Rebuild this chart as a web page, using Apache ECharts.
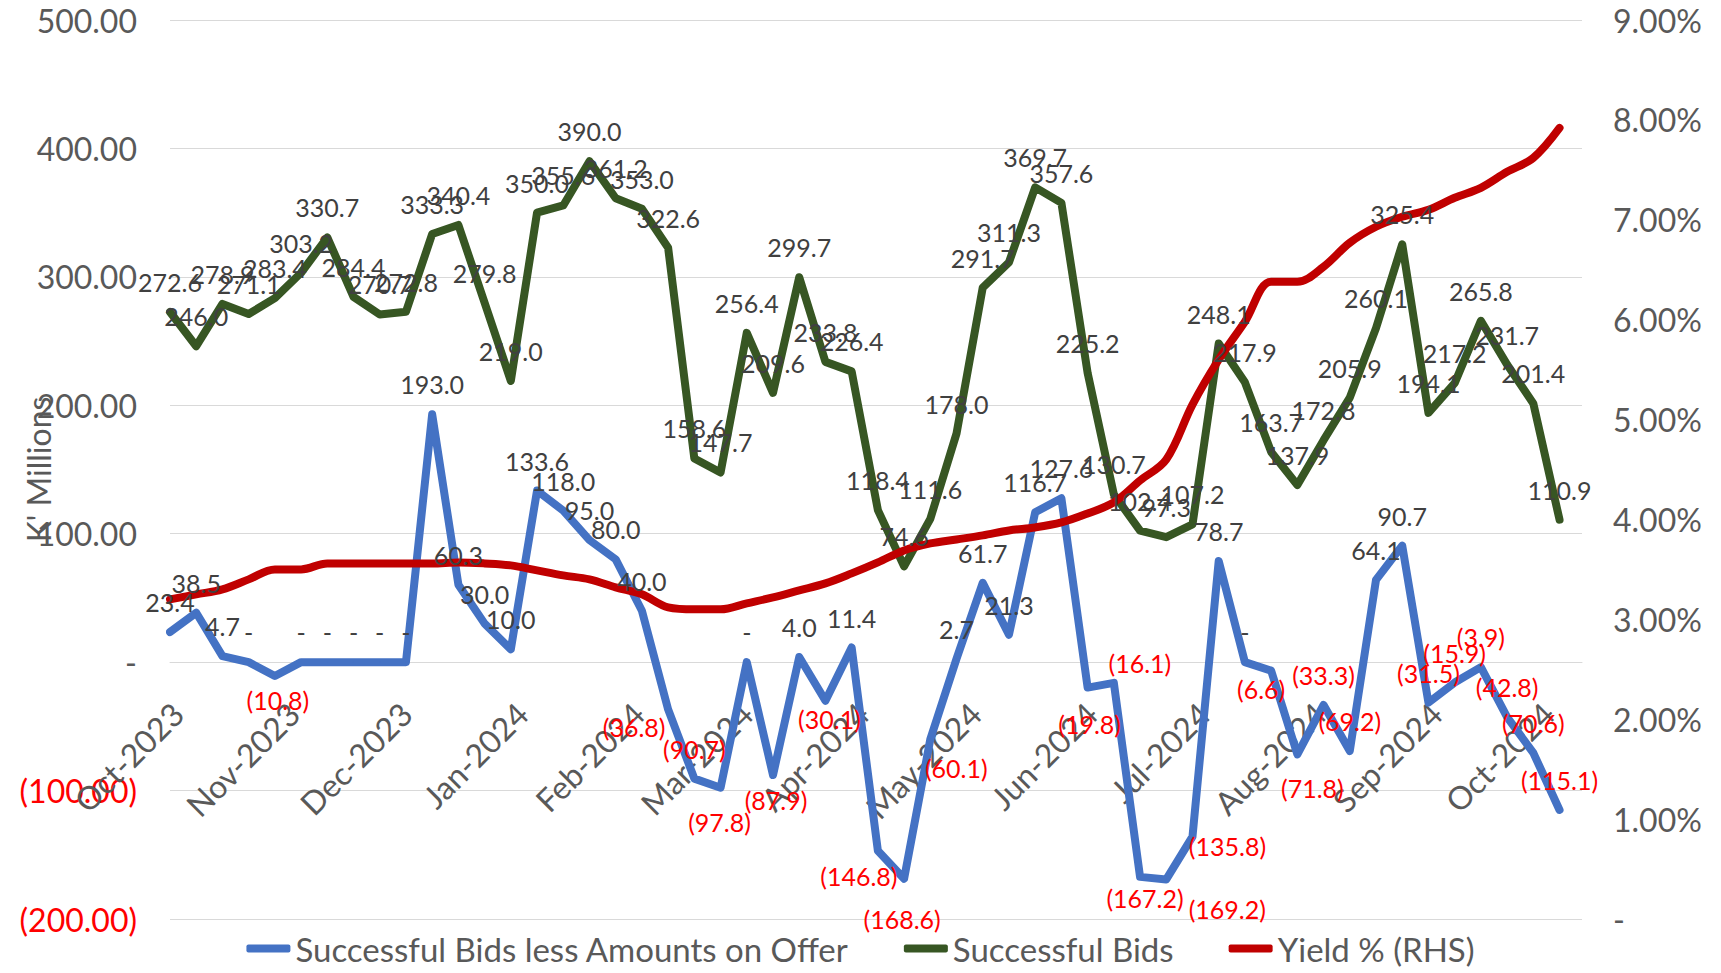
<!DOCTYPE html>
<html>
<head>
<meta charset="utf-8">
<script src="https://cdn.jsdelivr.net/npm/echarts@6/dist/echarts.min.js"></script>
<style>
html,body{margin:0;padding:0;background:#fff;}
#chart{width:1721px;height:973px;}
</style>
</head>
<body>
<div id="chart"></div>
<script>
// Weekly auction dates
const dates = [
  '2023-09-29','2023-10-06','2023-10-13','2023-10-20','2023-10-27',
  '2023-11-03','2023-11-10','2023-11-17','2023-11-24','2023-12-01',
  '2023-12-08','2023-12-15','2023-12-22','2023-12-29','2024-01-05',
  '2024-01-12','2024-01-19','2024-01-26','2024-02-02','2024-02-09',
  '2024-02-16','2024-02-23','2024-03-01','2024-03-08','2024-03-15',
  '2024-03-22','2024-03-29','2024-04-05','2024-04-12','2024-04-19',
  '2024-04-26','2024-05-03','2024-05-10','2024-05-17','2024-05-24',
  '2024-05-31','2024-06-07','2024-06-14','2024-06-21','2024-06-28',
  '2024-07-05','2024-07-12','2024-07-19','2024-07-26','2024-08-02',
  '2024-08-09','2024-08-16','2024-08-23','2024-08-30','2024-09-06',
  '2024-09-13','2024-09-20','2024-09-27','2024-10-04'
];
// Successful Bids less Amounts on Offer (K' Millions)
const bidsLessOffer = [
  23.4, 38.5, 4.7, 0, -10.8, 0, 0, 0, 0, 0,
  193.0, 60.3, 30.0, 10.0, 133.6, 118.0, 95.0, 80.0, 40.0, -36.8,
  -90.7, -97.8, 0, -87.9, 4.0, -30.1, 11.4, -146.8, -168.6, -60.1,
  2.7, 61.7, 21.3, 116.7, 127.6, -19.8, -16.1, -167.2, -169.2, -135.8,
  78.7, 0, -6.6, -71.8, -33.3, -69.2, 64.1, 90.7, -31.5, -15.9,
  -3.9, -42.8, -70.6, -115.1
];
// Successful Bids (K' Millions)
const successfulBids = [
  272.6, 246.0, 278.9, 271.1, 283.4, 303.2, 330.7, 284.4, 270.7, 272.8,
  333.3, 340.4, 279.8, 219.0, 350.0, 355.6, 390.0, 361.2, 353.0, 322.6,
  158.6, 147.7, 256.4, 209.6, 299.7, 233.8, 226.4, 118.4, 74.6, 111.6,
  178.0, 291.7, 311.3, 369.7, 357.6, 225.2, 130.7, 102.4, 97.3, 107.2,
  248.1, 217.9, 163.7, 137.9, 172.8, 205.9, 260.1, 325.4, 194.1, 217.2,
  265.8, 231.7, 201.4, 110.9
];
// Yield % (RHS)
const yieldPct = [
  3.20, 3.25, 3.30, 3.40, 3.50, 3.50, 3.56, 3.56, 3.56, 3.56,
  3.56, 3.57, 3.56, 3.54, 3.49, 3.44, 3.40, 3.32, 3.25, 3.12,
  3.10, 3.10, 3.16, 3.22, 3.29, 3.36, 3.46, 3.57, 3.69, 3.76,
  3.80, 3.84, 3.89, 3.92, 3.97, 4.06, 4.17, 4.39, 4.60, 5.15,
  5.60, 5.98, 6.38, 6.38, 6.53, 6.77, 6.93, 7.03, 7.10, 7.22,
  7.32, 7.48, 7.62, 7.92
];
const monthNames = ['Jan','Feb','Mar','Apr','May','Jun','Jul','Aug','Sep','Oct','Nov','Dec'];

// label placement tweaks (1-based point number -> [dx, dy] of label centre)
const defaultLabelOffset = [0, -30];
const blueLabelOffsets = {
  5:[3,24], 20:[-34,18], 22:[-1,34], 24:[3,25], 26:[4,18], 28:[-19,25],
  29:[-2,40], 30:[26,29], 36:[2,36], 37:[26,-20], 38:[5,21], 39:[61,30],
  40:[35,9], 43:[-10,18], 44:[15,34]
};

const FONT = 'Lato';
const GRAY = '#595959';
const LABEL_GRAY = '#404040';
const RED_TXT = '#FF0000';

const GRID_TOP = 20, GRID_BOTTOM = 54, CHART_H = 973;
const Y_MIN = -200, Y_MAX = 500;
// distance from the bottom of the plot to the zero line, so the date axis sits on zero
const plotH = CHART_H - GRID_TOP - GRID_BOTTOM;
const zeroOffset = plotH * (0 - Y_MIN) / (Y_MAX - Y_MIN);

function fmtParen(v, d) {
  if (v === 0) return '-';
  if (v < 0) return '(' + Math.abs(v).toFixed(d) + ')';
  return v.toFixed(d);
}

const blueData = bidsLessOffer.map((v, i) => ({
  value: [dates[i], v],
  label: {
    offset: blueLabelOffsets[i + 1] || defaultLabelOffset,
    color: v < 0 ? RED_TXT : LABEL_GRAY
  }
}));
const greenData = successfulBids.map((v, i) => ({
  value: [dates[i], v],
  label: { offset: defaultLabelOffset }
}));
const redData = yieldPct.map((v, i) => [dates[i], v]);

const chart = echarts.init(document.getElementById('chart'), null, { renderer: 'svg' });

const labelCommon = {
  show: true,
  position: 'inside',
  fontSize: 25,
  fontFamily: FONT,
  color: LABEL_GRAY
};

chart.setOption({
  animation: false,
  backgroundColor: '#ffffff',
  textStyle: { fontFamily: FONT },
  grid: { left: 170, right: 139, top: GRID_TOP, bottom: GRID_BOTTOM, containLabel: false, outerBoundsMode: 'none' },
  legend: {
    bottom: 3,
    left: 'center',
    icon: 'roundRect',
    itemWidth: 44,
    itemHeight: 8,
    itemGap: 55,
    textStyle: { fontSize: 33, color: GRAY, fontFamily: FONT },
    data: ['Successful Bids less Amounts on Offer', 'Successful Bids', 'Yield % (RHS)']
  },
  xAxis: {
    type: 'time',
    position: 'bottom',
    offset: -zeroOffset,
    min: '2023-09-29',
    max: '2024-10-10',
    minInterval: 28 * 864e5,
    maxInterval: 31 * 864e5,
    splitLine: { show: false },
    axisTick: { show: false },
    axisLine: { show: true, onZero: false, lineStyle: { color: '#D9D9D9', width: 1 } },
    axisLabel: {
      rotate: 45,
      margin: 46,
      fontSize: 32,
      color: GRAY,
      fontFamily: FONT,
      hideOverlap: false,
      formatter: function (val) {
        const d = new Date(val);
        return monthNames[d.getMonth()] + '-' + d.getFullYear();
      }
    }
  },
  yAxis: [
    {
      type: 'value',
      min: Y_MIN, max: Y_MAX, interval: 100,
      name: "K' Millions",
      nameLocation: 'middle',
      nameRotate: 90,
      nameGap: 116,
      nameMoveOverlap: false,
      nameTextStyle: { fontSize: 32, color: GRAY, fontFamily: FONT },
      axisLine: { show: false },
      axisTick: { show: false },
      splitLine: { show: true, lineStyle: { color: '#D9D9D9', width: 1 } },
      axisLabel: {
        margin: 33,
        fontSize: 32,
        fontFamily: FONT,
        color: function (v) { return Number(v) < 0 ? RED_TXT : GRAY; },
        formatter: function (v) { return fmtParen(v, 2); }
      }
    },
    {
      type: 'value',
      position: 'right',
      min: 0, max: 9, interval: 1,
      axisLine: { show: false },
      axisTick: { show: false },
      splitLine: { show: false },
      axisLabel: {
        margin: 31,
        fontSize: 32,
        fontFamily: FONT,
        color: GRAY,
        formatter: function (v) { return v === 0 ? '-' : v.toFixed(2) + '%'; }
      }
    }
  ],
  series: [
    {
      name: 'Successful Bids less Amounts on Offer',
      type: 'line',
      yAxisIndex: 0,
      data: blueData,
      symbol: 'circle',
      symbolSize: 1,
      showSymbol: true,
      showAllSymbol: true,
      itemStyle: { color: '#4472C4' },
      lineStyle: { color: '#4472C4', width: 8, join: 'round', cap: 'round' },
      label: Object.assign({}, labelCommon, {
        formatter: function (p) { return fmtParen(p.value[1], 1); }
      }),
      emphasis: { disabled: true },
      z: 2
    },
    {
      name: 'Successful Bids',
      type: 'line',
      yAxisIndex: 0,
      data: greenData,
      symbol: 'circle',
      symbolSize: 1,
      showSymbol: true,
      showAllSymbol: true,
      itemStyle: { color: '#375623' },
      lineStyle: { color: '#375623', width: 8, join: 'round', cap: 'round' },
      label: Object.assign({}, labelCommon, {
        formatter: function (p) { return p.value[1].toFixed(1); }
      }),
      emphasis: { disabled: true },
      z: 2
    },
    {
      name: 'Yield % (RHS)',
      type: 'line',
      yAxisIndex: 1,
      data: redData,
      symbol: 'none',
      smooth: 0.35,
      itemStyle: { color: '#C00000' },
      lineStyle: { color: '#C00000', width: 8, cap: 'round' },
      emphasis: { disabled: true },
      z: 2
    }
  ]
});
</script>
</body>
</html>
